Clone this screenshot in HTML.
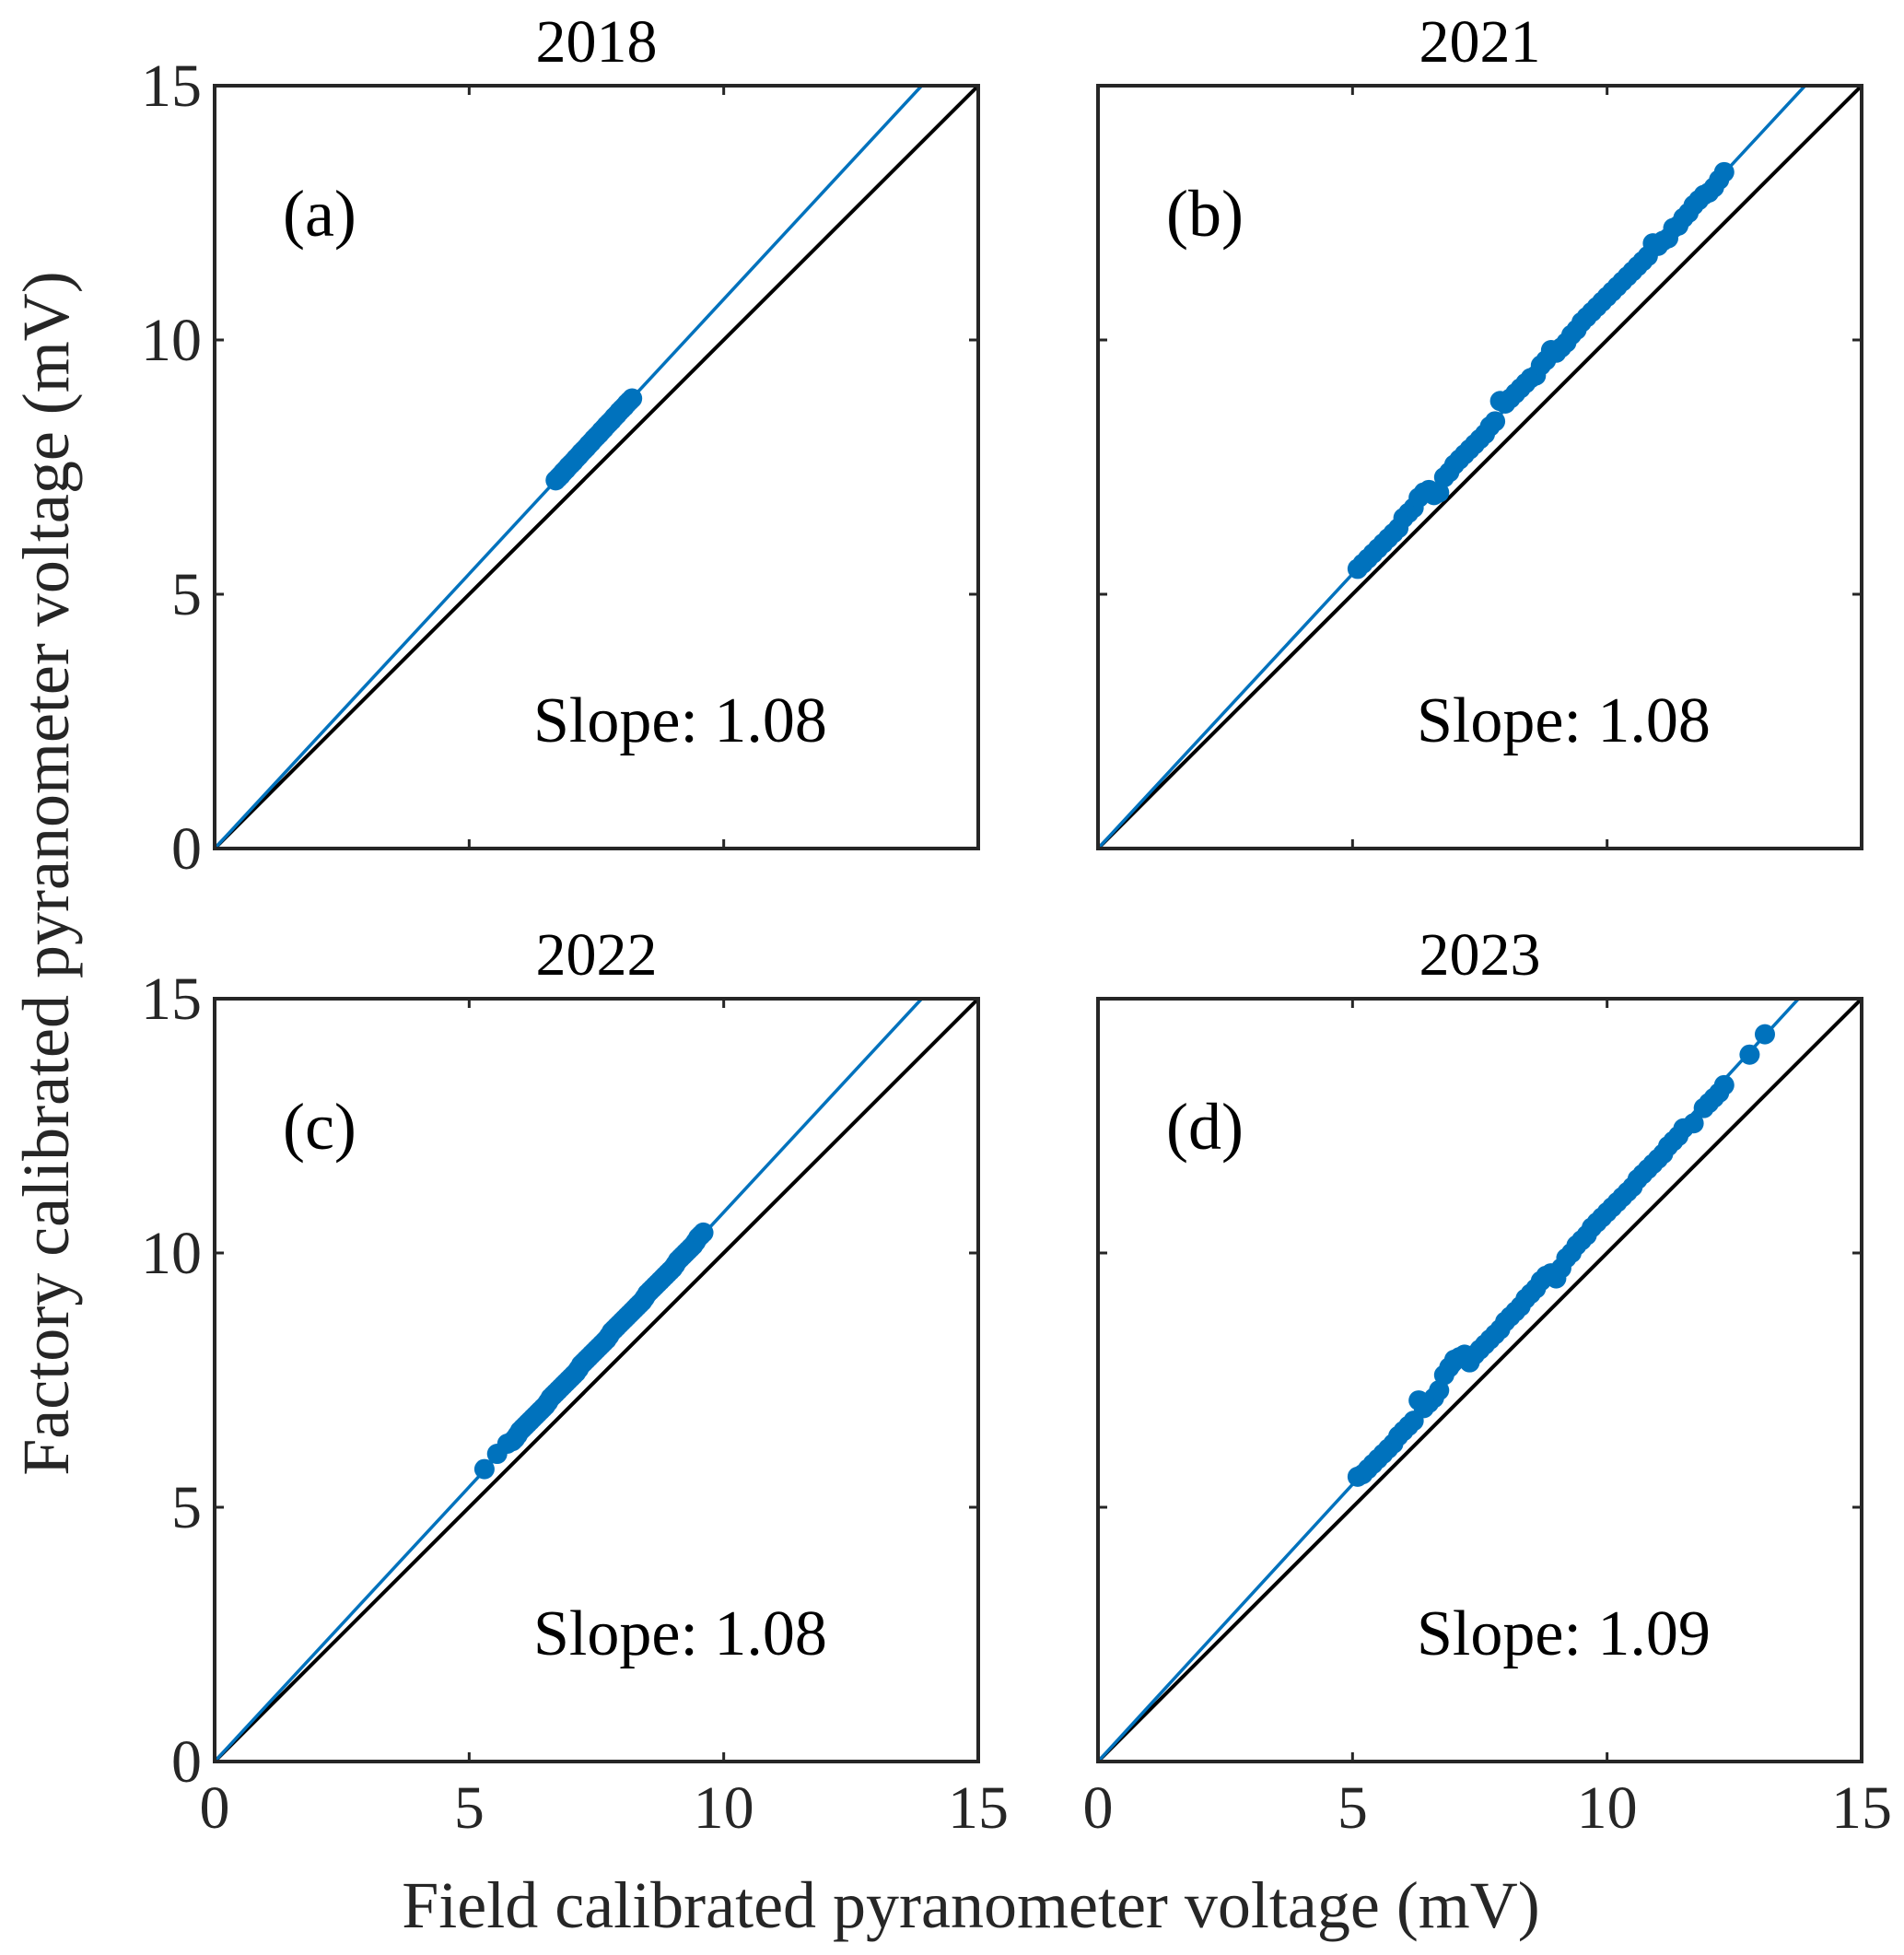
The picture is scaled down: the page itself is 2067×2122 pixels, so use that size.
<!DOCTYPE html>
<html><head><meta charset="utf-8"><style>
html,body{margin:0;padding:0;background:#fff;}
svg{display:block;font-family:"Liberation Serif",serif;}
</style></head><body>
<svg id="fig" width="2067" height="2122" viewBox="0 0 2067 2122" xmlns="http://www.w3.org/2000/svg">
<text x="0" y="0" transform="translate(74,948) rotate(-90)" text-anchor="middle" font-size="72" fill="#262626">Factory calibrated pyranometer voltage (mV)</text>
<text x="1054" y="2092" text-anchor="middle" font-size="72" fill="#262626">Field calibrated pyranometer voltage (mV)</text>
</svg>
<script>
const titles = ["2018","2021","2022","2023"];
const letters = ["(a)","(b)","(c)","(d)"];
const slopes = [1.08,1.08,1.08,1.09];
const ticks = [0,5,10,15];
const xA = [6.70,6.75,6.80,6.85,6.90,6.95,7.00,7.05,7.10,7.15,7.20,7.25,7.30,7.35,7.40,7.45,7.50,7.55,7.60,7.65,7.70,7.75,7.80,7.85,7.90,7.95,8.00,8.05,8.10,8.15,8.20];
const yA = [7.24,7.29,7.34,7.40,7.45,7.51,7.56,7.61,7.67,7.72,7.78,7.83,7.88,7.94,7.99,8.05,8.10,8.15,8.21,8.26,8.32,8.37,8.42,8.48,8.53,8.59,8.64,8.69,8.75,8.80,8.85];
const xB = [5.1,5.2,5.3,5.4,5.5,5.6,5.7,5.8,5.9,6.0,6.1,6.2,6.3,6.4,6.5,6.6,6.7,6.8,6.9,7.0,7.1,7.2,7.3,7.4,7.5,7.6,7.7,7.8,7.9,8.0,8.1,8.2,8.3,8.4,8.5,8.6,8.7,8.8,8.9,9.0,9.1,9.2,9.3,9.4,9.5,9.6,9.7,9.8,9.9,10.0,10.1,10.2,10.3,10.4,10.5,10.6,10.7,10.8,10.9,11.0,11.1,11.2,11.3,11.4,11.5,11.6,11.7,11.8,11.9,12.0,12.1,12.2,12.3];
const yB = [5.5,5.6,5.7,5.8,5.9,6.0,6.1,6.2,6.3,6.5,6.6,6.7,6.9,7.0,7.05,6.95,7.0,7.3,7.4,7.55,7.65,7.75,7.85,7.95,8.05,8.15,8.3,8.4,8.8,8.75,8.85,8.95,9.05,9.15,9.25,9.3,9.5,9.6,9.8,9.75,9.85,9.95,10.1,10.2,10.35,10.45,10.55,10.65,10.75,10.85,10.95,11.05,11.15,11.25,11.35,11.45,11.55,11.65,11.9,11.85,11.95,12.0,12.2,12.25,12.4,12.5,12.65,12.75,12.85,12.9,13.0,13.15,13.3];
const xC = [5.3,5.55,5.75,5.85,5.9,5.95,6.0,6.05,6.1,6.15,6.2,6.25,6.3,6.35,6.4,6.45,6.5,6.55,6.6,6.65,6.7,6.75,6.8,6.85,6.9,6.95,7.0,7.05,7.1,7.15,7.2,7.25,7.3,7.35,7.4,7.45,7.5,7.55,7.6,7.65,7.7,7.75,7.8,7.85,7.9,7.95,8.0,8.05,8.1,8.15,8.2,8.25,8.3,8.35,8.4,8.45,8.5,8.55,8.6,8.65,8.7,8.75,8.8,8.85,8.9,8.95,9.0,9.05,9.1,9.15,9.2,9.25,9.3,9.35,9.4,9.45,9.5,9.55,9.6];
const yC = [5.75,6.05,6.25,6.3,6.35,6.42,6.5,6.55,6.6,6.65,6.7,6.75,6.8,6.85,6.9,6.95,7.0,7.07,7.15,7.2,7.25,7.3,7.35,7.4,7.45,7.5,7.55,7.6,7.65,7.72,7.8,7.85,7.9,7.95,8.0,8.05,8.1,8.15,8.2,8.25,8.3,8.37,8.45,8.5,8.55,8.6,8.65,8.7,8.75,8.8,8.85,8.9,8.95,9.0,9.05,9.12,9.2,9.25,9.3,9.35,9.4,9.45,9.5,9.55,9.6,9.65,9.7,9.77,9.85,9.9,9.95,10.0,10.05,10.1,10.15,10.22,10.3,10.35,10.4];
const xD = [5.1,5.2,5.3,5.4,5.5,5.6,5.7,5.8,5.9,6.0,6.1,6.2,6.3,6.4,6.5,6.6,6.7,6.8,6.9,7.0,7.1,7.2,7.3,7.4,7.5,7.6,7.7,7.8,7.9,8.0,8.1,8.2,8.3,8.4,8.5,8.6,8.7,8.8,8.9,9.0,9.1,9.2,9.3,9.4,9.5,9.6,9.7,9.8,9.9,10.0,10.1,10.2,10.3,10.4,10.5,10.6,10.7,10.8,10.9,11.0,11.1,11.2,11.3,11.4,11.5,11.7,11.9,12.0,12.1,12.2,12.3,12.8,13.1];
const yD = [5.6,5.65,5.75,5.85,5.95,6.05,6.15,6.25,6.4,6.5,6.6,6.7,7.1,6.95,7.05,7.15,7.3,7.6,7.75,7.9,7.95,8.0,7.85,8.0,8.1,8.2,8.3,8.4,8.5,8.65,8.75,8.85,8.95,9.1,9.2,9.3,9.45,9.55,9.6,9.5,9.7,9.9,10.0,10.15,10.25,10.35,10.5,10.6,10.7,10.8,10.9,11.0,11.1,11.2,11.3,11.45,11.55,11.65,11.75,11.85,11.95,12.1,12.2,12.3,12.45,12.55,12.85,12.95,13.05,13.15,13.3,13.9,14.3];
const xs = [xA,xB,xC,xD];
const ys = [yA,yB,yC,yD];

const NS = "http://www.w3.org/2000/svg";
const svg = document.getElementById('fig');
const lefts = [233,1192,233,1192];
const tops = [93,93,1084,1084];
const W = 829, H = 828, XMAX = 15;
const BLUE = "#0072BD", AX = "#262626";
function mk(tag, attrs, parent){
  const e = document.createElementNS(NS, tag);
  for (const k in attrs) e.setAttribute(k, attrs[k]);
  (parent||svg).appendChild(e);
  return e;
}
for (let p=0;p<4;p++){
  const L=lefts[p], T=tops[p];
  const sx = v => L + v/XMAX*W;
  const sy = v => T + H - v/XMAX*H;
  const g = mk('g',{});
  
  
  const clipId='clip'+p;
  const cp = mk('clipPath',{id:clipId},g);
  mk('rect',{x:L,y:T,width:W,height:H},cp);
  const idl = mk('line',{x1:sx(0),y1:sy(0),x2:sx(15),y2:sy(15),stroke:"#000","stroke-width":4,"clip-path":`url(#${clipId})`},g);
  
  
  const xe = 15/slopes[p];
  const fl = mk('line',{x1:sx(0),y1:sy(0),x2:sx(xe),y2:sy(slopes[p]*xe),stroke:BLUE,"stroke-width":3.5,"clip-path":`url(#${clipId})`},g);
  
  
  for (let i=0;i<xs[p].length;i++){
    const c = mk('circle',{cx:sx(xs[p][i]),cy:sy(ys[p][i]),r:11,fill:BLUE},g);
    
    
  }
  const box = mk('rect',{x:L,y:T,width:W,height:H,fill:"none",stroke:AX,"stroke-width":4},g);
  
  
  ticks.forEach(t=>{
    const X=sx(t), Y=sy(t);
    mk('line',{x1:X,y1:T+H,x2:X,y2:T+H-10,stroke:AX,"stroke-width":3},g);
    mk('line',{x1:X,y1:T,x2:X,y2:T+10,stroke:AX,"stroke-width":3},g);
    mk('line',{x1:L,y1:Y,x2:L+10,y2:Y,stroke:AX,"stroke-width":3},g);
    mk('line',{x1:L+W,y1:Y,x2:L+W-10,y2:Y,stroke:AX,"stroke-width":3},g);
    if (p===0||p===2){
      const tl = mk('text',{x:L-14,y:Y+22,"text-anchor":"end","font-size":66,fill:AX},g);
      tl.textContent=t;
      
      
    }
    if (p===2||p===3){
      const tl = mk('text',{x:X,y:T+H+72,"text-anchor":"middle","font-size":66,fill:AX},g);
      tl.textContent=t;
      
      
    }
  });
  const ti = mk('text',{x:L+W/2,y:T-26,"text-anchor":"middle","font-size":66,fill:"#000"},g);
  ti.textContent=titles[p];
  
  
  const le = mk('text',{x:L+74,y:T+163,"font-size":72,fill:"#000"},g);
  le.textContent=letters[p];
  
  
  const sl = mk('text',{x:L+346,y:T+712,"font-size":70,fill:"#000","xml:space":"preserve"},g);
  sl.textContent='Slope:  '+slopes[p].toFixed(2);
  
  
}
</script>
</body></html>
